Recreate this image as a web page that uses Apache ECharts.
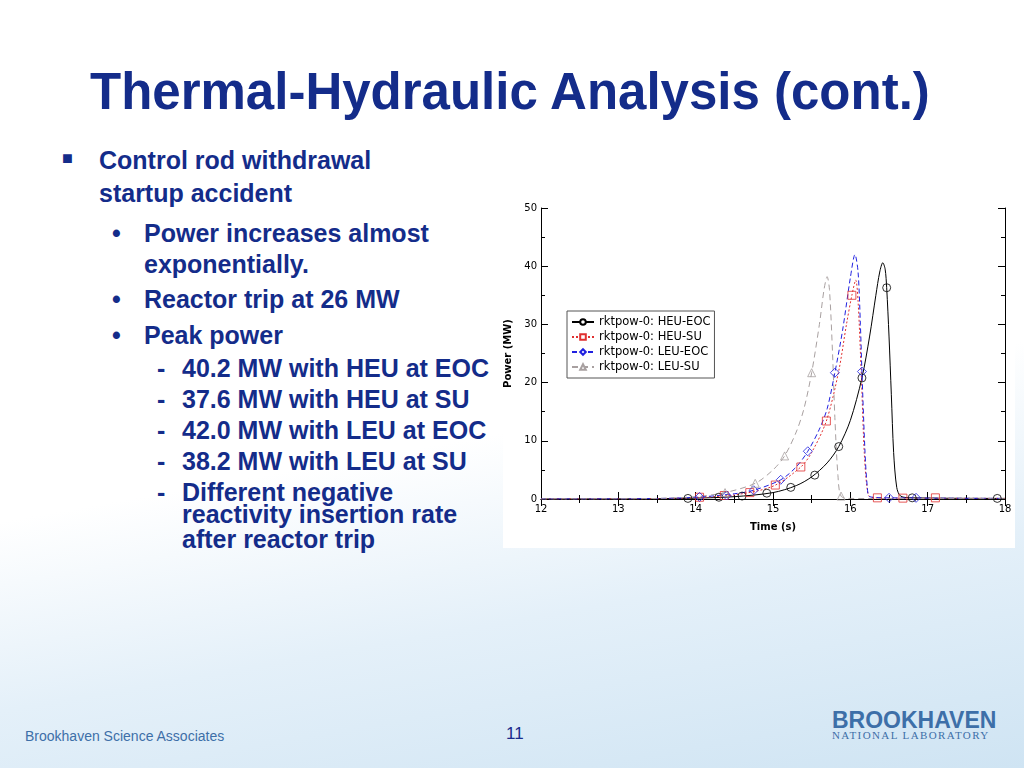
<!DOCTYPE html>
<html><head><meta charset="utf-8">
<script src="https://cdn.jsdelivr.net/npm/echarts@6/dist/echarts.min.js"></script>
<style>
body{margin:0;width:1024px;height:768px;overflow:hidden;font-family:"Liberation Sans",Arial,sans-serif;
background:linear-gradient(170deg,#ffffff 0%,#ffffff 55%,#e4f0f9 75%,#cfe4f3 100%);position:relative}
.t{position:absolute;color:#142c8a;font-weight:bold}
#chart{position:absolute;left:503px;top:193px;width:512px;height:355px;background:#fff}
</style></head><body>
<div class="t" style="left:90px;top:62px;font-size:51px">Thermal-Hydraulic Analysis (cont.)</div>
<div class="t" style="left:62px;top:148px;font-size:18px">&#9632;</div>
<div class="t" style="left:99px;top:144px;font-size:25px;line-height:33px">Control rod withdrawal<br>startup accident</div>
<div class="t" style="left:112px;top:218px;font-size:25px;line-height:31px">•</div>
<div class="t" style="left:144px;top:218px;font-size:25px;line-height:31px">Power increases almost<br>exponentially.</div>
<div class="t" style="left:112px;top:285px;font-size:25px">•</div>
<div class="t" style="left:144px;top:285px;font-size:25px">Reactor trip at 26 MW</div>
<div class="t" style="left:112px;top:321px;font-size:25px">•</div>
<div class="t" style="left:144px;top:321px;font-size:25px">Peak power</div>
<div class="t" style="left:157px;top:353px;font-size:25px;line-height:31px">-<br>-<br>-<br>-<br>-</div>
<div class="t" style="left:182px;top:353px;font-size:25px;line-height:31px">40.2 MW with HEU at EOC<br>37.6 MW with HEU at SU<br>42.0 MW with LEU at EOC<br>38.2 MW with LEU at SU<br>Different negative</div>
<div class="t" style="left:182px;top:502px;font-size:25px;line-height:25px">reactivity insertion rate<br>after reactor trip</div>
<div id="chart"></div>
<div style="position:absolute;left:25px;top:728px;font-size:14px;color:#3d6fa8;font-family:'Liberation Sans Narrow','Liberation Sans'">Brookhaven Science Associates</div>
<div style="position:absolute;left:506px;top:724px;font-size:17px;color:#1b2a8c">11</div>
<div style="position:absolute;left:832px;top:707px;font-size:23px;font-weight:bold;color:#3d6fa8;font-family:'Liberation Sans Narrow','Liberation Sans'">BROOKHAVEN</div>
<div style="position:absolute;left:832px;top:729px;font-size:11px;color:#3d6fa8;letter-spacing:1.4px;font-family:'Liberation Serif'">NATIONAL LABORATORY</div>
<script>
var seriesNames = ['rktpow-0: HEU-EOC','rktpow-0: HEU-SU','rktpow-0: LEU-EOC','rktpow-0: LEU-SU'];
var heuEocCurve = [[12,0],[13,0.02],[13.5,0.05],[14,0.15],[14.5,0.4],[15,1.1],[15.3,2.3],[15.5,3.8],[15.7,6.2],[15.85,9],[16,13.5],[16.15,20.8],[16.25,28],[16.33,35],[16.38,39],[16.42,40.6],[16.45,39.5],[16.47,36.3],[16.5,28],[16.53,18],[16.56,8],[16.6,2],[16.65,0.5],[16.8,0.2],[18,0.1]];
var heuEocMarks = [[13.9,0.1],[14.3,0.3],[14.6,0.5],[14.92,1.0],[15.23,2.0],[15.54,4.1],[15.85,9.0],[16.15,20.8],[16.47,36.3],[16.8,0.2],[17.9,0.1]];
var heuSuCurve = [[12,0],[13,0.02],[13.5,0.05],[14,0.25],[14.5,0.7],[15,2.2],[15.36,5.5],[15.5,8],[15.69,13.4],[15.85,22],[15.95,30],[16.02,35],[16.07,37.6],[16.1,34],[16.14,22],[16.18,8],[16.22,1.5],[16.26,0.3],[16.5,0.15],[18,0.1]];
var heuSuMarks = [[14.05,0.3],[14.37,0.6],[14.7,1.1],[15.03,2.4],[15.36,5.5],[15.69,13.4],[16.02,35],[16.35,0.2],[16.68,0.15],[17.1,0.2]];
var leuEocCurve = [[12,0],[13,0.02],[13.5,0.08],[14,0.3],[14.5,0.9],[14.75,1.5],[15.1,3.3],[15.3,5.5],[15.45,8.2],[15.6,12],[15.7,15.5],[15.8,21.7],[15.9,29],[16,38],[16.06,42],[16.1,39],[16.13,30],[16.15,21.9],[16.19,8],[16.22,2],[16.25,0.4],[16.5,0.2],[18,0.1]];
var leuEocMarks = [[14.05,0.35],[14.4,0.6],[14.75,1.5],[15.1,3.3],[15.45,8.2],[15.8,21.7],[16.15,21.9],[16.5,0.2],[16.85,0.2]];
var leuSuCurve = [[12,0],[13,0.03],[13.5,0.1],[14,0.4],[14.38,1.1],[14.77,2.7],[15,5],[15.15,7.4],[15.3,11.5],[15.4,15.5],[15.5,21.7],[15.6,30],[15.66,36],[15.7,38.2],[15.73,36],[15.77,25],[15.8,14],[15.84,4],[15.88,0.5],[16,0.1],[18,0.05]];
var leuSuMarks = [[14.38,1.1],[14.77,2.7],[15.15,7.4],[15.5,21.7],[15.88,0.5]];
var xTicks = [12,13,14,15,16,17,18];
var yTicks = [0,10,20,30,40,50];

var colors = ['#000000','#e03030','#2020e0','#a8a0a0'];
var symbols = ['circle','rect','diamond','triangle'];
var lineTypes = ['solid',[2,2],[5,3],[6,4]];
var curves = [heuEocCurve, heuSuCurve, leuEocCurve, leuSuCurve];
var marks = [heuEocMarks, heuSuMarks, leuEocMarks, leuSuMarks];

var series = [];
for (var i = 0; i < 4; i++) {
  series.push({name: seriesNames[i], type: 'line', data: curves[i], smooth: 0.3, symbol: symbols[i], symbolSize: 7,
    showSymbol: false, itemStyle: {color: '#fff', borderColor: colors[i], borderWidth: 1},
    lineStyle: {color: colors[i], width: 1, type: lineTypes[i]}, z: 2});
  series.push({name: seriesNames[i], type: 'scatter', data: marks[i], symbol: symbols[i], symbolSize: i == 2 ? 9 : 8,
    itemStyle: {color: 'rgba(0,0,0,0)', borderColor: colors[i], borderWidth: 1}, z: 3});
}

var tickStyle = {inside: true, length: 7, lineStyle: {color: '#000'}};
var minorStyle = {show: true, splitNumber: 2, length: 4, lineStyle: {color: '#000'}};
var chart = echarts.init(document.getElementById('chart'));
chart.setOption({
  animation: false,
  textStyle: {fontFamily: 'DejaVu Sans'},
  grid: {left: 38, top: 15, width: 464, height: 291, outerBoundsMode: 'none', containLabel: false},
  legend: {data: seriesNames, orient: 'vertical', left: 64, top: 118, itemGap: 3, itemWidth: 22, itemHeight: 7,
    backgroundColor: '#fff', borderColor: '#555', borderWidth: 1, padding: [5, 4, 5, 4],
    textStyle: {fontSize: 11.5, color: '#000'}},
  xAxis: [
    {type: 'value', min: 12, max: 18, interval: 1, name: 'Time (s)', nameLocation: 'middle', nameGap: 23,
     nameTextStyle: {fontSize: 10, fontWeight: 'bold'},
     axisLine: {lineStyle: {color: '#000'}}, axisTick: tickStyle, minorTick: minorStyle, splitLine: {show: false},
     axisLabel: {fontSize: 10, color: '#000', margin: 5, formatter: function (v) { return xTicks.indexOf(v) >= 0 ? v : ''; }}},
    {type: 'value', position: 'top', min: 12, max: 18, interval: 1, axisLine: {lineStyle: {color: '#000'}},
     axisTick: tickStyle, minorTick: minorStyle, axisLabel: {show: false}, splitLine: {show: false}}
  ],
  yAxis: [
    {type: 'value', min: 0, max: 50, interval: 10, name: 'Power (MW)', nameLocation: 'middle', nameGap: 22,
     nameTextStyle: {fontSize: 10, fontWeight: 'bold'},
     axisLine: {lineStyle: {color: '#000'}}, axisTick: tickStyle, minorTick: minorStyle, splitLine: {show: false},
     axisLabel: {fontSize: 10, color: '#000', margin: 4, formatter: function (v) { return yTicks.indexOf(v) >= 0 ? v : ''; }}},
    {type: 'value', position: 'right', min: 0, max: 50, interval: 10, axisLine: {show: true, lineStyle: {color: '#000'}},
     axisTick: tickStyle, minorTick: minorStyle, axisLabel: {show: false}, splitLine: {show: false}}
  ],
  series: series
});
</script>
</body></html>
